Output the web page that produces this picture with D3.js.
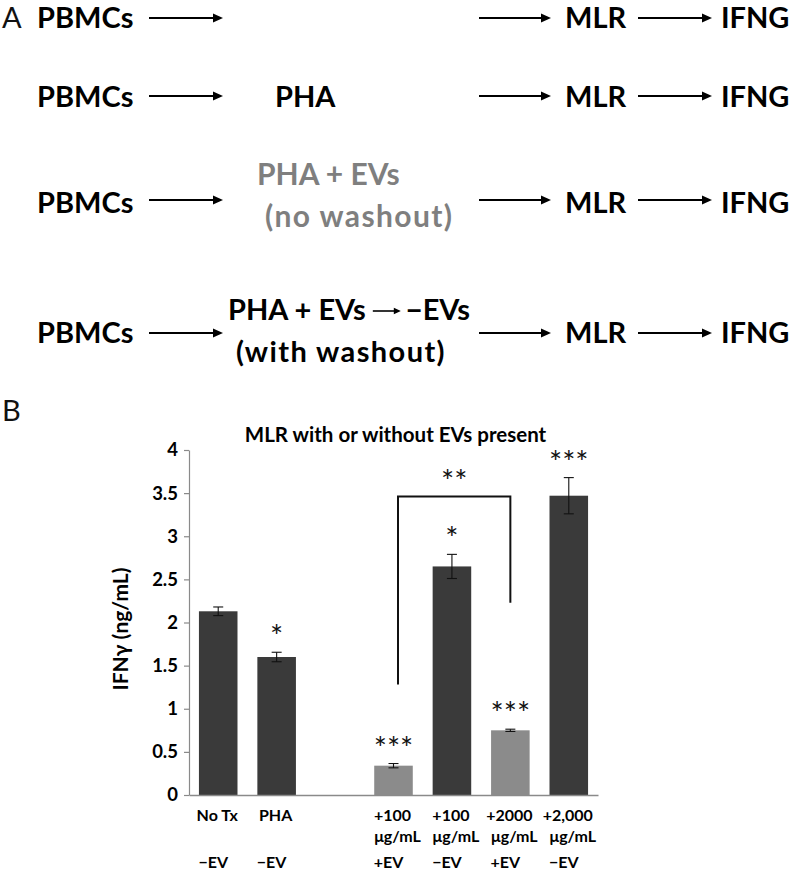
<!DOCTYPE html>
<html>
<head>
<meta charset="utf-8">
<script src="https://cdn.jsdelivr.net/npm/d3@7"></script>
<style>
  html, body { margin: 0; padding: 0; background: #fff; }
  svg text { font-family: Lato, "Open Sans", sans-serif; }
</style>
</head>
<body>
<svg id="fig" width="789" height="870"></svg>
<script>
// ---------- Panel A data ----------
const flowStart = "PBMCs";
const flowEnd = ["MLR", "IFNG"];
const treatLine1 = ["", "PHA", "PHA + EVs", "PHA + EVs"];
const treatLine1b = ["", "", "", "−EVs"];
const treatLine2 = ["", "", "(no washout)", "(with washout)"];
const treatGrey = [false, false, true, false];

// ---------- Panel B data ----------
const categories = ["noTx", "pha", "gap", "ev100", "noev100", "ev2000", "noev2000"];
const labelLine1 = ["No Tx", "PHA", "", "+100", "+100", "+2000", "+2,000"];
const labelLine2 = ["", "", "", "μg/mL", "μg/mL", "μg/mL", "μg/mL"];
const evLabels = ["−EV", "−EV", "", "+EV", "−EV", "+EV", "−EV"];
const values = [2.13, 1.60, null, 0.34, 2.65, 0.75, 3.47];
const errors = [0.05, 0.055, null, 0.025, 0.14, 0.013, 0.21];
const withEV = [false, false, false, true, false, true, false];
const sigLabels = ["", "*", "", "***", "*", "***", "***"];
const yTicks = [0, 0.5, 1, 1.5, 2, 2.5, 3, 3.5, 4];
const bracketCats = ["ev100", "ev2000"];
const bracketLow = [1.28, 2.23];
const bracketTop = 3.46;
const bracketLabel = "**";
const chartTitle = "MLR with or without EVs present";
const yTitle = "IFNγ (ng/mL)";

const svg = d3.select("#fig");

// ---------- Panel A ----------
const gA = svg.append("g");
gA.append("text").attr("x", 2).attr("y", 28).attr("font-size", 29)
  .attr("font-weight", 400).attr("fill", "#111").text("A");

function arrow(g, x1, x2, y, head, w) {
  g.append("line").attr("x1", x1).attr("x2", x2 - head + 1).attr("y1", y).attr("y2", y)
    .attr("stroke", "#000").attr("stroke-width", w);
  g.append("path")
    .attr("d", `M${x2},${y} L${x2 - head},${y - head * 0.45} L${x2 - head},${y + head * 0.45} Z`)
    .attr("fill", "#000");
}

const rowBase = [28, 107, 213, 343];
const rowArrow = [18, 96, 200, 333];
const line1Base = [28, 107, 185, 320];
const line2Base = [0, 0, 227, 362];
const line1X = [0, 275, 257, 228];
const line2X = [0, 0, 265, 236];

treatLine1.forEach((t, i) => {
  const g = gA.append("g");
  g.append("text").attr("x", 37).attr("y", rowBase[i]).attr("font-size", 29)
    .attr("font-weight", 700).attr("fill", "#000").text(flowStart);
  arrow(g, 149, 223, rowArrow[i], 10, 2);
  arrow(g, 479, 551, rowArrow[i], 10, 2);
  arrow(g, 638, 712, rowArrow[i], 10, 2);
  g.append("text").attr("x", 565).attr("y", rowBase[i]).attr("font-size", 29)
    .attr("font-weight", 700).attr("fill", "#000").text(flowEnd[0]);
  g.append("text").attr("x", 721).attr("y", rowBase[i]).attr("font-size", 29)
    .attr("font-weight", 700).attr("fill", "#000").text(flowEnd[1]);
  const col = treatGrey[i] ? "#7f7f7f" : "#000";
  const fs = treatGrey[i] ? 30 : 29;
  if (t) {
    const t1 = g.append("text").attr("x", line1X[i]).attr("y", line1Base[i]).attr("font-size", fs)
      .attr("font-weight", 700).attr("fill", col).text(t);
    if (treatLine1b[i]) {
      const w = t1.node().getComputedTextLength();
      const ax = line1X[i] + w + 7;
      arrow(g, ax, ax + 28, line1Base[i] - 9, 7, 1.6);
      g.append("text").attr("x", ax + 33).attr("y", line1Base[i]).attr("font-size", fs)
        .attr("font-weight", 700).attr("fill", col).text(treatLine1b[i]);
    }
  }
  if (treatLine2[i]) {
    g.append("text").attr("x", line2X[i]).attr("y", line2Base[i]).attr("font-size", fs)
      .attr("font-weight", 700).attr("letter-spacing", 1.4).attr("fill", col).text(treatLine2[i]);
  }
});

// ---------- Panel B ----------
svg.append("text").attr("x", 2).attr("y", 421).attr("font-size", 29)
  .attr("font-weight", 400).attr("fill", "#111").text("B");

const x = d3.scaleBand().domain(categories).range([189, 598])
  .paddingInner(0.34).paddingOuter(0.17);
const y = d3.scaleLinear().domain([0, 4]).range([795, 450]);

const gB = svg.append("g");

gB.append("text").attr("x", 395.5).attr("y", 442).attr("text-anchor", "middle")
  .attr("font-size", 20.5).attr("font-weight", 700).attr("fill", "#000").text(chartTitle);

// y axis
const yAx = gB.append("g").attr("transform", "translate(189,0)")
  .call(d3.axisLeft(y).tickValues(yTicks).tickFormat(d => String(d)).tickSize(5).tickSizeOuter(0).tickPadding(6));
yAx.select(".domain").attr("stroke", "#8a8a8a").attr("stroke-width", 1.2);
yAx.selectAll(".tick line").attr("stroke", "#8a8a8a").attr("stroke-width", 1.2);
yAx.selectAll(".tick text").attr("font-family", "Lato, sans-serif").attr("font-size", 18.5)
  .attr("font-weight", 700).attr("fill", "#000");

gB.append("text").attr("transform", "translate(128,629) rotate(-90)")
  .attr("text-anchor", "middle").attr("font-size", 21).attr("font-weight", 700)
  .attr("fill", "#000").text(yTitle);

// bars
const data = categories.map((c, i) => ({ c, v: values[i], e: errors[i], ev: withEV[i], s: sigLabels[i] }))
  .filter(d => d.v !== null);

gB.selectAll("rect.bar").data(data).join("rect").attr("class", "bar")
  .attr("x", d => x(d.c)).attr("width", x.bandwidth())
  .attr("y", d => y(d.v)).attr("height", d => y(0) - y(d.v))
  .attr("fill", d => d.ev ? "#8b8b8b" : "#3a3a3a");

// x axis line
const xAx = gB.append("g").attr("transform", "translate(0,795)")
  .call(d3.axisBottom(x).tickSize(0).tickFormat(""));
xAx.select(".domain").attr("stroke", "#8a8a8a").attr("stroke-width", 1.5);

// error bars
const capW = 5;
data.forEach(d => {
  const cx = x(d.c) + x.bandwidth() / 2;
  const g = gB.append("g").attr("stroke", "#111").attr("stroke-width", 1.1);
  g.append("line").attr("x1", cx).attr("x2", cx).attr("y1", y(d.v + d.e)).attr("y2", y(d.v - d.e));
  g.append("line").attr("x1", cx - capW).attr("x2", cx + capW).attr("y1", y(d.v + d.e)).attr("y2", y(d.v + d.e));
  g.append("line").attr("x1", cx - capW).attr("x2", cx + capW).attr("y1", y(d.v - d.e)).attr("y2", y(d.v - d.e));
});

// significance stars
const starFont = "'Liberation Sans', Arial, sans-serif";
data.forEach(d => {
  if (!d.s) return;
  const cx = x(d.c) + x.bandwidth() / 2;
  gB.append("text").attr("x", cx).attr("y", y(d.v + d.e) - 5)
    .attr("text-anchor", "middle").attr("font-family", starFont)
    .attr("font-size", 31).attr("fill", "#111").text(d.s);
});

// bracket
const bx1 = x(bracketCats[0]) + x.bandwidth() / 2 + 4.5;
const bx2 = x(bracketCats[1]) + x.bandwidth() / 2;
gB.append("path")
  .attr("d", `M${bx1},${y(bracketLow[0])} L${bx1},${y(bracketTop)} L${bx2},${y(bracketTop)} L${bx2},${y(bracketLow[1])}`)
  .attr("fill", "none").attr("stroke", "#111").attr("stroke-width", 2);
gB.append("text").attr("x", (bx1 + bx2) / 2).attr("y", y(bracketTop) - 5)
  .attr("text-anchor", "middle").attr("font-family", starFont)
  .attr("font-size", 31).attr("fill", "#111").text(bracketLabel);

// x labels
categories.forEach((c, i) => {
  const cx = x(c) + x.bandwidth() / 2;
  const lab = (txt, dx, yy) => gB.append("text").attr("x", cx + dx).attr("y", yy)
    .attr("text-anchor", "middle").attr("font-size", 16).attr("font-weight", 700)
    .attr("fill", "#000").text(txt);
  if (labelLine1[i]) lab(labelLine1[i], -1, 821);
  if (labelLine2[i]) lab(labelLine2[i], 4, 841.5);
  if (evLabels[i]) lab(evLabels[i], -5, 868);
});
</script>
</body>
</html>
